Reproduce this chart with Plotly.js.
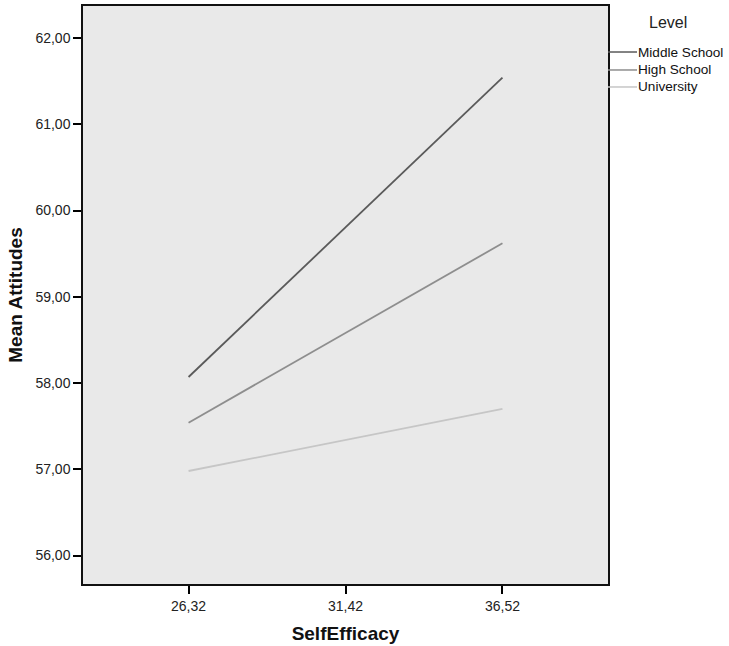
<!DOCTYPE html>
<html>
<head>
<meta charset="utf-8">
<script src="https://cdn.plot.ly/plotly-3.0.1.min.js"></script>
<style>body{margin:0;padding:0;background:#fff;} #chart{width:729px;height:646px;}</style>
</head>
<body>
<div id="chart"></div>
<script>
const selfEfficacy = [26.32, 36.52];
const seriesNames = ["Middle School", "High School", "University"];
const middleSchool = [58.07, 61.54];
const highSchool = [57.54, 59.62];
const university = [56.98, 57.70];
const xTickVals = [26.32, 31.42, 36.52];
const yTickVals = [56, 57, 58, 59, 60, 61, 62];
const legendTitle = "Level";

const colors = ["#5a5a5a", "#8e8e8e", "#c6c6c6"];
const allSeries = [middleSchool, highSchool, university];
const traces = allSeries.map((ys, i) => ({
  x: selfEfficacy, y: ys, name: seriesNames[i], type: "scatter", mode: "lines",
  line: {color: colors[i], width: 1.8}, showlegend: false
}));

// manual legend (placed outside the plot frame, touching it)
const legendY = [0.9204, 0.8893, 0.8599];
const shapes = seriesNames.map((n, i) => ({
  type: "line", xref: "paper", yref: "paper", xsizemode: "pixel", xanchor: 1,
  x0: 0, x1: 29, y0: legendY[i], y1: legendY[i],
  line: {color: colors[i], width: 1.5}
}));
const annotations = seriesNames.map((n, i) => ({
  text: n, xref: "paper", yref: "paper", x: 1, y: legendY[i], xshift: 28,
  xanchor: "left", yanchor: "middle", showarrow: false,
  font: {size: 13.6, color: "#111"}
}));
annotations.push({
  text: legendTitle, xref: "paper", yref: "paper", x: 1, y: 0.9706, xshift: 60,
  xanchor: "center", yanchor: "middle", showarrow: false,
  font: {size: 16, color: "#222"}
});

const layout = {
  width: 729, height: 646,
  margin: {l: 83, r: 121, t: 6, b: 62},
  paper_bgcolor: "#ffffff",
  plot_bgcolor: "#e9e9e9",
  separators: ",.",
  font: {family: "Liberation Sans, Arial, sans-serif", color: "#222", size: 14},
  showlegend: false,
  xaxis: {
    range: [22.89, 39.95], tickvals: xTickVals, tickformat: ".2f",
    ticks: "outside", ticklen: 8, tickcolor: "#000", tickwidth: 1.5,
    showgrid: false, zeroline: false, showline: true, mirror: true, linecolor: "#111", linewidth: 1.5,
    tickfont: {size: 14, color: "#222"},
    title: {text: "<b>SelfEfficacy</b>", font: {size: 19, color: "#111"}, standoff: 14}
  },
  yaxis: {
    range: [55.67, 62.371], tickvals: yTickVals, tickformat: ".2f",
    ticks: "outside", ticklen: 8, tickcolor: "#000", tickwidth: 1.5,
    showgrid: false, zeroline: false, showline: true, mirror: true, linecolor: "#111", linewidth: 1.5,
    tickfont: {size: 14, color: "#222"},
    title: {text: "<b>Mean Attitudes</b>", font: {size: 19, color: "#111"}, standoff: 8}
  },
  shapes: shapes,
  annotations: annotations
};

Plotly.newPlot("chart", traces, layout, {displayModeBar: false});
</script>
</body>
</html>
